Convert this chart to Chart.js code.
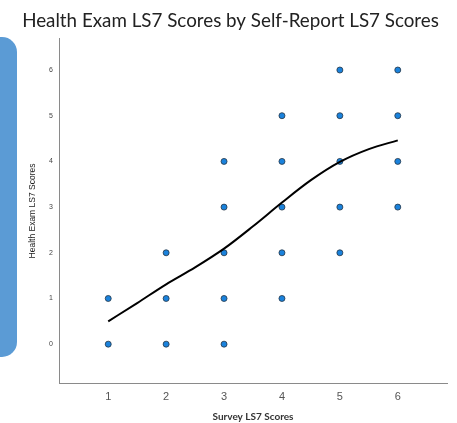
<!DOCTYPE html>
<html>
<head>
<meta charset="utf-8">
<script src="https://cdn.jsdelivr.net/npm/chart.js@4"></script>
<style>
html,body{margin:0;padding:0;background:#fff;}
canvas{display:block;}
</style>
</head>
<body>
<canvas id="c" width="457" height="423"></canvas>
<script>
// Scatter points: survey score (x) and health exam score (y)
const surveyScores = [1,1, 2,2,2, 3,3,3,3,3, 4,4,4,4,4, 5,5,5,5,5, 6,6,6,6];
const examScores   = [0,1, 0,1,2, 0,1,2,3,4, 1,2,3,4,5, 2,3,4,5,6, 3,4,5,6];
// Loess fit line
const fitX = [1, 1.5, 2, 2.5, 3, 3.5, 4, 4.5, 5, 5.5, 6];
const fitY = [0.50, 0.90, 1.31, 1.68, 2.09, 2.58, 3.10, 3.59, 3.99, 4.27, 4.46];
const xTicks = [1,2,3,4,5,6];
const yTicks = [0,1,2,3,4,5,6];

const bgPanel = {
  id: 'bgPanel',
  beforeDraw(chart) {
    const ctx = chart.ctx;
    ctx.save();
    ctx.fillStyle = '#5b9bd5';
    ctx.beginPath();
    ctx.roundRect(-20, 37, 37, 320, 15);
    ctx.fill();
    ctx.restore();
  }
};

new Chart(document.getElementById('c'), {
  type: 'scatter',
  data: {
    datasets: [
      {
        type: 'line',
        data: fitX.map((x,i)=>({x, y: fitY[i]})),
        borderColor: '#000',
        borderWidth: 2,
        pointRadius: 0,
        cubicInterpolationMode: 'monotone',
        fill: false,
        order: 0
      },
      {
        data: surveyScores.map((x,i)=>({x, y: examScores[i]})),
        backgroundColor: '#1a82dc',
        borderColor: '#253545',
        borderWidth: 0.8,
        pointRadius: 3,
        order: 1
      }
    ]
  },
  options: {
    responsive: false,
    animation: false,
    layout: { padding: { left: 14, right: 10, top: 0, bottom: 0 } },
    plugins: {
      legend: { display: false },
      tooltip: { enabled: false },
      title: {
        display: true,
        text: 'Health Exam LS7 Scores by Self-Report LS7 Scores',
        color: '#222',
        font: { family: 'Lato', size: 18.8, weight: 'normal', lineHeight: 1.2 },
        padding: { top: 10, bottom: 6.4 }
      }
    },
    scales: {
      x: {
        type: 'linear',
        min: 0.15, max: 6.85,
        afterFit(s) { s.height = 40; },
        afterBuildTicks(s) { s.ticks = xTicks.map(v=>({value:v})); },
        grid: { display: false, drawTicks: false },
        border: { display: true, color: '#8a8a8a', width: 1 },
        ticks: { color: '#555', padding: 7, font: { family: 'Liberation Sans', size: 11 } },
        title: {
          display: true, text: 'Survey LS7 Scores', color: '#333',
          font: { family: 'Lato', size: 10, weight: 'bold', lineHeight: 1.2 },
          padding: { top: 0, bottom: 0.5 }
        }
      },
      y: {
        type: 'linear',
        min: -0.85, max: 6.68,
        afterFit(s) { s.width = 45; },
        afterBuildTicks(s) { s.ticks = yTicks.map(v=>({value:v})); },
        grid: { display: false, drawTicks: false },
        border: { display: true, color: '#8a8a8a', width: 1 },
        ticks: { color: '#444', padding: 6, font: { family: 'Liberation Sans', size: 7 } },
        title: {
          display: true, text: 'Health Exam LS7 Scores', color: '#222',
          font: { family: 'Liberation Sans Narrow, Liberation Sans', size: 8.5, lineHeight: 1.2 },
          padding: { top: 14, bottom: 0 }
        }
      }
    }
  },
  plugins: [bgPanel]
});
</script>
</body>
</html>
